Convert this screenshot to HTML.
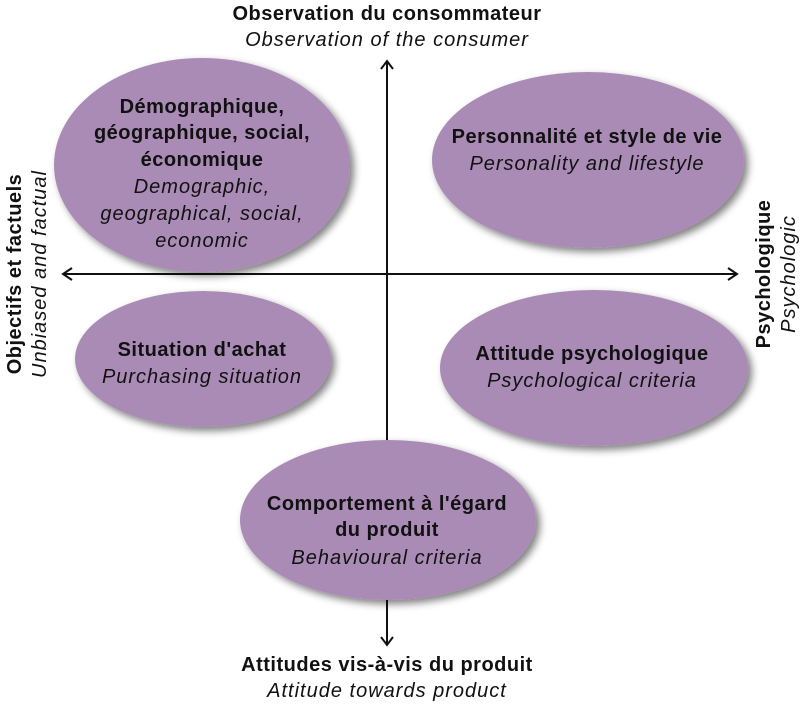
<!DOCTYPE html>
<html><head><meta charset="utf-8"><style>
body{margin:0;background:#fff;}
svg text{font-family:"Liberation Sans",sans-serif;font-size:20px;fill:#111;letter-spacing:0.8px;}
.b{font-weight:bold;letter-spacing:0.5px;}
.i{font-style:italic;letter-spacing:1px;}
</style></head><body>
<svg width="800" height="703" viewBox="0 0 800 703" xmlns="http://www.w3.org/2000/svg">
<defs>
<filter id="s" x="-20%" y="-20%" width="140%" height="140%"><feGaussianBlur in="SourceAlpha" stdDeviation="4"/><feOffset dx="4" dy="4"/><feComponentTransfer><feFuncA type="linear" slope="0.5"/></feComponentTransfer><feMerge><feMergeNode/><feMergeNode in="SourceGraphic"/></feMerge></filter>
</defs>
<g stroke="#111" stroke-width="2" fill="none">
<line x1="387" y1="62" x2="387" y2="644"/>
<line x1="64" y1="274" x2="736" y2="274"/>
<polyline points="381,69 387,61 393,69"/>
<polyline points="381,637 387,645 393,637"/>
<polyline points="72,268 63,274 72,280"/>
<polyline points="728,268 737,274 728,280"/>
</g>
<g fill="#aa8bb6" filter="url(#s)">
<ellipse cx="202" cy="165" rx="148" ry="107"/>
<ellipse cx="588" cy="160" rx="156" ry="88"/>
<ellipse cx="203" cy="359" rx="128" ry="68"/>
<ellipse cx="594" cy="368" rx="154" ry="78"/>
<ellipse cx="388" cy="520" rx="148" ry="80"/>
</g>
<g text-anchor="middle">
<text x="387" y="20" class="b">Observation du consommateur</text>
<text x="387" y="46" class="i">Observation of the consumer</text>
<text x="387" y="671" class="b">Attitudes vis-à-vis du produit</text>
<text x="387" y="697" class="i">Attitude towards product</text>
<text x="202" y="113" class="b">Démographique,</text>
<text x="202" y="139" class="b">géographique, social,</text>
<text x="202" y="166" class="b">économique</text>
<text x="202" y="193" class="i">Demographic,</text>
<text x="202" y="220" class="i">geographical, social,</text>
<text x="202" y="247" class="i">economic</text>
<text x="587" y="143" class="b">Personnalité et style de vie</text>
<text x="587" y="170" class="i">Personality and lifestyle</text>
<text x="202" y="356" class="b">Situation d'achat</text>
<text x="202" y="383" class="i">Purchasing situation</text>
<text x="592" y="360" class="b">Attitude psychologique</text>
<text x="592" y="387" class="i">Psychological criteria</text>
<text x="387" y="510" class="b">Comportement à l'égard</text>
<text x="387" y="536" class="b">du produit</text>
<text x="387" y="564" class="i">Behavioural criteria</text>
<text transform="translate(21,274) rotate(-90)" class="b">Objectifs et factuels</text>
<text transform="translate(46,274) rotate(-90)" class="i">Unbiased and factual</text>
<text transform="translate(770,274) rotate(-90)" class="b">Psychologique</text>
<text transform="translate(795,274) rotate(-90)" class="i">Psychologic</text>
</g>
</svg>
</body></html>
